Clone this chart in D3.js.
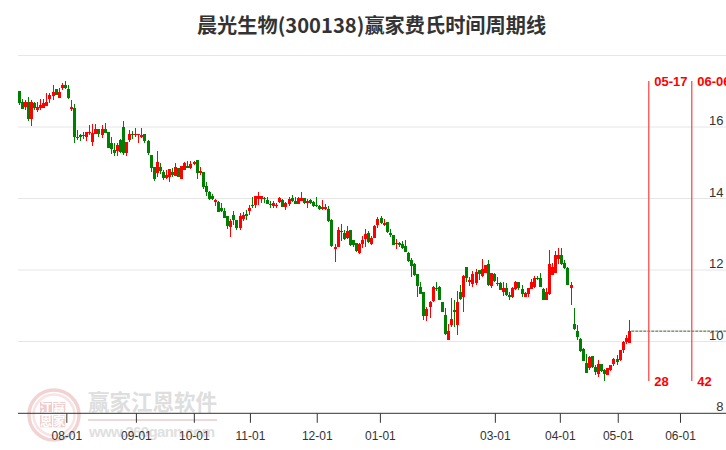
<!DOCTYPE html>
<html><head><meta charset="utf-8">
<script src="https://cdn.jsdelivr.net/npm/d3@7/dist/d3.min.js"></script>
<style>html,body{margin:0;padding:0;background:#fff;overflow:hidden}svg{display:block}</style>
</head><body><svg id="c" width="726" height="450"></svg>
<script>
const titleText = "晨光生物(300138)赢家费氏时间周期线";
const opens = [17.01,16.70,16.57,16.70,16.22,16.66,16.48,16.54,16.54,16.59,
16.79,16.88,17.05,16.82,17.10,17.17,17.06,16.50,16.53,15.72,
15.78,15.77,15.72,15.82,15.58,15.80,15.94,15.79,15.94,15.86,
15.54,15.36,15.33,15.64,16.00,15.27,15.64,15.80,15.78,15.78,
15.72,15.80,15.61,15.22,14.87,14.71,14.88,14.74,14.57,14.60,
14.74,14.63,14.85,14.55,14.80,14.91,14.85,14.97,15.08,14.72,
14.74,14.35,14.18,14.07,13.90,13.90,13.73,13.65,13.51,13.20,
13.54,13.40,13.17,13.43,13.57,13.65,13.82,13.82,13.99,13.99,
14.01,13.96,13.85,13.79,13.79,13.90,13.96,13.76,13.85,14.01,
13.93,13.85,13.93,14.01,13.87,13.96,13.90,13.82,13.79,13.71,
13.71,13.71,13.40,12.59,12.64,13.09,13.03,12.90,13.12,12.84,
12.76,12.48,12.73,12.87,13.03,12.73,12.90,13.26,13.45,13.26,
13.34,13.03,12.98,12.73,12.76,12.73,12.67,12.48,12.28,12.17,
11.89,11.52,11.38,10.71,10.97,11.13,11.50,11.52,11.11,10.74,
10.04,10.46,10.88,10.46,11.38,11.24,12.08,11.66,11.61,11.64,
12.00,11.83,11.92,12.17,11.55,11.89,11.64,11.64,11.38,11.50,
11.30,11.24,11.47,11.66,11.47,11.24,11.33,11.47,11.52,11.78,
11.78,11.47,11.16,11.33,11.86,11.92,12.31,12.42,12.20,12.06,
11.50,10.49,10.29,10.07,9.79,9.40,9.26,9.59,9.29,9.09,
9.37,9.20,9.06,9.20,9.37,9.51,9.48,9.76,9.99,9.96];
const closes = [16.68,16.50,16.70,16.22,16.70,16.54,16.55,16.61,16.66,16.70,
16.89,16.97,16.89,16.98,17.17,17.09,16.81,16.56,15.73,15.69,
15.72,15.74,15.86,15.86,15.83,15.94,15.80,15.94,15.84,15.41,
15.38,15.28,15.50,15.30,15.28,15.58,15.80,15.78,15.80,15.80,
15.78,15.61,15.28,14.85,14.55,15.02,14.77,14.57,14.66,14.82,
14.66,14.88,14.60,14.91,14.99,14.85,14.97,15.02,14.71,14.76,
14.32,14.18,13.99,13.99,13.96,13.62,13.65,13.45,13.23,13.37,
13.40,13.17,13.51,13.54,13.51,13.73,13.79,14.07,14.07,14.07,
13.99,13.85,13.82,13.87,13.82,14.01,13.76,13.87,13.99,13.93,
13.85,14.01,14.01,13.87,13.93,13.87,13.79,13.79,13.71,13.76,
13.76,13.37,12.67,12.64,13.12,13.06,12.87,13.09,12.70,12.70,
12.53,12.73,12.84,13.01,12.78,12.90,13.23,13.43,13.31,13.31,
13.06,12.97,12.70,12.76,12.70,12.62,12.50,12.25,12.11,11.86,
11.55,11.33,10.71,10.91,11.11,11.52,11.47,11.16,10.83,10.21,
10.29,10.63,10.83,11.11,11.19,11.83,11.78,11.72,11.89,11.94,
11.89,12.03,12.14,11.58,11.92,11.69,11.61,11.44,11.50,11.30,
11.24,11.50,11.66,11.50,11.33,11.36,11.50,11.66,11.78,11.75,
11.52,11.16,11.38,12.17,12.08,12.42,12.42,12.17,12.06,11.58,
11.59,10.35,10.13,9.73,9.45,9.12,9.57,9.29,9.15,9.37,
9.17,9.09,9.26,9.34,9.51,9.44,9.76,9.99,10.10,10.29];
const highs = [17.01,16.77,16.76,16.84,16.76,16.70,16.70,16.78,16.78,16.95,
16.95,17.17,17.05,17.08,17.22,17.29,17.17,16.76,16.64,15.92,
15.80,15.86,15.86,16.06,16.08,16.08,15.94,16.06,16.11,15.86,
15.72,15.55,15.55,15.66,16.17,15.58,15.92,15.90,15.96,15.80,
15.97,15.80,15.64,15.22,14.87,15.33,14.99,14.80,14.80,14.82,
14.85,14.99,14.85,14.91,15.02,15.05,15.05,15.05,15.08,14.88,
14.74,14.46,14.21,14.13,13.99,13.93,13.87,13.73,13.51,13.43,
13.65,13.40,13.59,13.62,13.68,13.82,14.04,14.07,14.18,14.07,
14.04,14.04,13.93,13.93,13.87,14.04,13.99,13.90,14.04,14.10,
14.04,14.04,14.18,14.01,13.99,13.99,13.93,14.04,13.82,13.96,
13.85,13.79,13.43,12.73,13.20,13.29,13.12,13.23,13.12,12.84,
12.76,12.76,12.95,13.15,13.09,12.95,13.26,13.48,13.51,13.43,
13.34,13.15,12.98,12.87,12.78,12.81,12.84,12.50,12.34,12.20,
11.89,11.66,11.38,10.97,11.13,11.55,11.66,11.55,11.11,10.94,
10.49,11.22,11.16,11.41,11.58,11.86,12.08,11.80,11.97,12.03,
12.00,12.31,12.14,12.28,11.92,11.92,11.80,11.66,11.66,11.64,
11.38,11.52,11.69,11.66,11.58,11.38,11.50,11.75,11.83,11.83,
11.92,11.50,11.50,12.56,12.20,12.53,12.62,12.62,12.28,12.08,
11.66,10.94,10.46,10.10,9.82,9.65,9.59,9.59,9.34,9.48,
9.37,9.23,9.26,9.34,9.54,9.62,9.76,10.01,10.18,10.60];
const lows = [16.62,16.50,16.48,16.17,16.04,16.48,16.42,16.48,16.52,16.59,
16.66,16.76,16.89,16.81,17.04,17.05,16.78,16.45,15.55,15.64,
15.61,15.67,15.61,15.78,15.47,15.80,15.72,15.69,15.84,15.41,
15.24,15.19,15.19,15.26,15.22,15.19,15.58,15.66,15.72,15.55,
15.69,15.55,15.22,14.74,14.49,14.60,14.69,14.52,14.55,14.46,
14.60,14.63,14.60,14.55,14.80,14.85,14.82,14.94,14.55,14.66,
14.27,14.07,13.96,13.96,13.79,13.62,13.62,13.45,13.15,12.92,
13.26,13.12,13.12,13.37,13.40,13.54,13.73,13.73,13.82,13.87,
13.87,13.85,13.73,13.73,13.73,13.87,13.76,13.68,13.79,13.90,
13.85,13.85,13.93,13.85,13.73,13.85,13.76,13.76,13.68,13.68,
13.68,13.34,12.64,12.22,12.64,12.81,12.84,12.87,12.67,12.64,
12.50,12.45,12.62,12.64,12.76,12.70,12.90,13.17,13.29,13.23,
13.03,12.92,12.70,12.59,12.64,12.59,12.50,12.22,11.80,11.83,
11.24,11.33,10.60,10.57,10.66,11.11,11.41,11.16,10.83,10.18,
10.04,10.41,10.41,10.18,11.16,10.83,11.66,11.55,11.52,11.58,
11.72,11.80,11.92,11.55,11.50,11.66,11.55,11.44,11.27,11.27,
11.16,11.22,11.44,11.44,11.24,11.24,11.24,11.47,11.50,11.72,
11.52,11.16,11.16,11.30,11.86,11.92,12.17,12.14,12.03,11.58,
11.02,10.32,10.04,9.71,9.45,9.12,9.20,9.26,9.06,9.01,
9.15,8.89,9.06,9.17,9.31,9.34,9.45,9.68,9.93,9.96];
const xTickLabels = ["08-01","09-01","10-01","11-01","12-01","01-01","03-01","04-01","05-01","06-01"];
const xTickIndex = [15.5,38.2,57.1,75.4,97.2,117.8,155.3,176.5,195.4,215.7];
const yTicks = [8,10,12,14,16,18];
const cycleDates = ["05-17","06-06"];
const cycleCounts = ["28","42"];
const cycleIndex = [205.35,219.38];

const svg = d3.select("#c");
const x = d3.scaleLinear().domain([0,199]).range([19.3,629.3]);
const y = d3.scaleLinear().domain([8,18]).range([413,55.5]);
const LEFT = 18, RIGHT = 726;
const SANS = "'Liberation Sans',Arial,sans-serif";
const CJK = "'Noto Sans CJK SC','Noto Sans',sans-serif";

// watermark
const wm = svg.append("g");
const pink = "#f0cccc";
wm.append("circle").attr("cx",54).attr("cy",415).attr("r",25).attr("fill","none").attr("stroke","#f2d3d3").attr("stroke-width",3.5);
wm.append("circle").attr("cx",54).attr("cy",415).attr("r",20.5).attr("fill","none").attr("stroke","#f8e4e4").attr("stroke-width",2.5);
[["江",40,402],["赢",53.3,402],["恩",40,415.3],["家",53.3,415.3]].forEach(([t,a,b])=>{
  wm.append("rect").attr("x",a).attr("y",b).attr("width",12).attr("height",12).attr("fill",pink);
  wm.append("text").attr("x",a+6).attr("y",b+10.5).attr("text-anchor","middle").attr("font-family",CJK).attr("font-weight","bold").attr("font-size",12).attr("fill","#fff").text(t);
});
wm.append("text").attr("x",88).attr("y",410).attr("font-family",CJK).attr("font-size",21.5).attr("font-weight","bold").attr("fill","#dedede").text("赢家江恩软件");
wm.append("rect").attr("x",88).attr("y",419).attr("width",129).attr("height",2).attr("fill","#eed9d9");
wm.append("text").attr("x",89).attr("y",437).attr("font-family",SANS).attr("font-size",15).attr("font-weight","bold").attr("fill","#e0e0e0").attr("textLength",126).text("www.360gann.com");

// grid
svg.append("g").selectAll("line").data(yTicks.filter(d=>d>8)).join("line")
  .attr("x1",LEFT).attr("x2",RIGHT).attr("y1",d=>y(d)).attr("y2",d=>y(d))
  .attr("stroke","#e6e6e6").attr("stroke-width",1);

// x axis
const axisY = y(8)+0.3;
svg.append("line").attr("x1",LEFT).attr("x2",RIGHT).attr("y1",axisY).attr("y2",axisY).attr("stroke","#333").attr("stroke-width",1);
const xt = svg.append("g").selectAll("g").data(xTickIndex).join("g");
xt.append("line").attr("x1",d=>x(d)).attr("x2",d=>x(d)).attr("y1",axisY).attr("y2",axisY+9.5).attr("stroke","#333").attr("stroke-width",1);
xt.append("text").attr("x",d=>x(d)).attr("y",440).attr("text-anchor","middle").attr("font-family",SANS).attr("font-size",12).attr("fill","#333").text((d,i)=>xTickLabels[i]);

// y labels
svg.append("g").selectAll("text").data(yTicks.filter(d=>d<18)).join("text")
  .attr("x",723.5).attr("y",d=>y(d)-2).attr("text-anchor","end").attr("font-family",SANS).attr("font-size",13).attr("fill","#333").text(d=>d);

// candles
const idx = d3.range(opens.length);
const col = i => closes[i] >= opens[i] ? "#ff0000" : "#008000";
const cg = svg.append("g").attr("shape-rendering","crispEdges");
cg.selectAll("line").data(idx).join("line")
  .attr("x1",i=>x(i)).attr("x2",i=>x(i)).attr("y1",i=>y(highs[i])).attr("y2",i=>y(lows[i]))
  .attr("stroke",col).attr("stroke-width",1);
cg.selectAll("rect").data(idx).join("rect")
  .attr("x",i=>x(i)-1.5).attr("width",3)
  .attr("y",i=>y(Math.max(opens[i],closes[i])))
  .attr("height",i=>Math.max(1,Math.abs(y(opens[i])-y(closes[i]))))
  .attr("fill",col);

// last close line
const last = closes[closes.length-1];
svg.append("line").attr("x1",x(199)+2).attr("x2",RIGHT).attr("y1",y(last)).attr("y2",y(last))
  .attr("stroke","#2f5f2f").attr("stroke-width",1).attr("stroke-dasharray","3,1");

// cycle lines
const cyc = svg.append("g").selectAll("g").data(cycleIndex).join("g");
cyc.append("line").attr("x1",d=>x(d)).attr("x2",d=>x(d)).attr("y1",81).attr("y2",381)
  .attr("stroke","#ff4d4d").attr("stroke-width",1.3);
cyc.append("text").attr("x",d=>x(d)+5.5).attr("y",86).attr("font-family",SANS).attr("font-size",13).attr("font-weight","bold").attr("fill","#ff0000").text((d,i)=>cycleDates[i]);
cyc.append("text").attr("x",d=>x(d)+5.5).attr("y",386).attr("font-family",SANS).attr("font-size",13).attr("font-weight","bold").attr("fill","#ff0000").text((d,i)=>cycleCounts[i]);

// title
svg.append("text").attr("x",371.5).attr("y",33).attr("text-anchor","middle").attr("font-family",CJK).attr("font-size",20.2).attr("font-weight","bold").attr("fill","#333").text(titleText);
</script></body></html>
